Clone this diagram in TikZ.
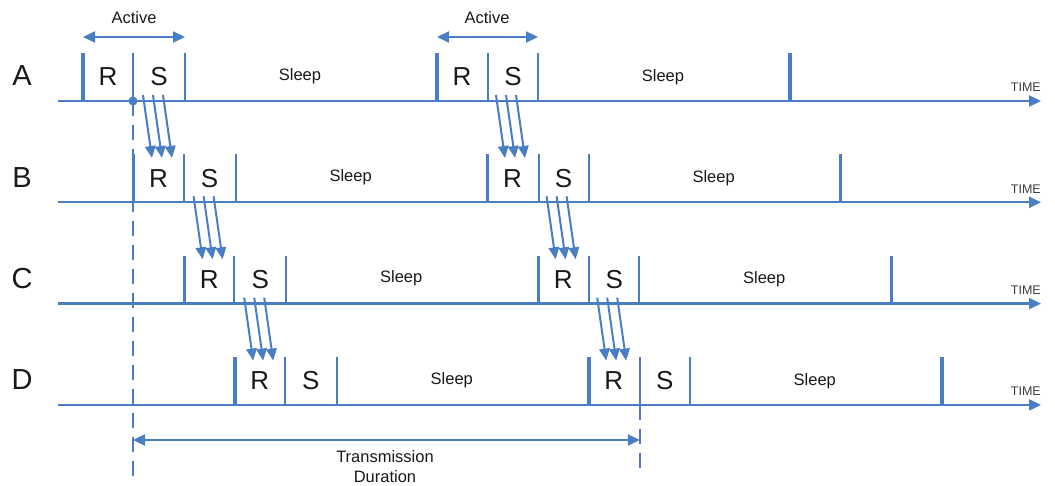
\documentclass[tikz,border=0pt]{standalone}
\usepackage{fontspec}
\setmainfont{Liberation Sans}
\usetikzlibrary{arrows.meta}
\definecolor{lineblue}{RGB}{74,126,196}
\definecolor{txt}{RGB}{25,25,25}
\begin{document}
\begin{tikzpicture}[x=1pt,y=-1pt,
  axis/.style={draw=lineblue,line width=2.2pt,-{Triangle[length=12pt,width=11pt]}},
  thinmark/.style={draw=lineblue,line width=2pt},
  thickmark/.style={draw=lineblue,line width=3.4pt},
  msg/.style={draw=lineblue,line width=2pt,-{Triangle[length=12pt,width=10.5pt]}},
  span/.style={draw=lineblue,line width=2.2pt,{Triangle[length=12pt,width=11pt]}-{Triangle[length=12pt,width=11pt]}},
  guide/.style={draw=lineblue,line width=2pt,dash pattern=on 15pt off 9pt},
  rowlabel/.style={font=\fontsize{29}{29}\selectfont,text=txt,inner sep=0pt},
  slot/.style={font=\fontsize{26}{26}\selectfont,text=txt,inner sep=0pt},
  lbl/.style={font=\fontsize{16.5}{20}\selectfont,text=txt,inner sep=0pt},
  timelbl/.style={font=\fontsize{12.5}{13}\selectfont,text=txt!85,inner sep=0pt}]
\useasboundingbox (0,0) rectangle (1055,486);

% four node timelines, each one offset by half a slot
\foreach \n [count=\i from 0] in {A,B,C,D} {
  \pgfmathsetmacro\yy{101+101.3*\i}
  \pgfmathsetmacro\sh{50.6*\i}
  \node[rowlabel] (lab\n) at (22,\yy-25) {\n};
  \coordinate (ax\n s) at (58,\yy);
  \coordinate (ax\n e) at (1041,\yy);
  \draw[axis] (ax\n s) -- (ax\n e);
  \node[timelbl,anchor=base east] (time\n) at (1041,\yy-9) {TIME};
  % slot boundaries
  \foreach \k/\x/\st in {1/83/thickmark,2/133/thinmark,3/185/thinmark,4/437/thickmark,5/488/thinmark,6/538/thinmark,7/790/thickmark} {
    \coordinate (t\n\k b) at (\x+\sh,\yy);
    \coordinate (t\n\k t) at (\x+\sh,\yy-48);
    \draw[\st] (t\n\k b) -- (t\n\k t);
  }
  % slot labels
  \node[slot] (r\n1) at (108+\sh,\yy-24) {R};
  \node[slot] (s\n1) at (159+\sh,\yy-24) {S};
  \node[slot] (r\n2) at (462+\sh,\yy-24) {R};
  \node[slot] (s\n2) at (513+\sh,\yy-24) {S};
  \node[lbl] (sl\n1) at (300+\sh,\yy-25) {Sleep};
  \node[lbl] (sl\n2) at (663+\sh,\yy-24) {Sleep};
}

% packets forwarded from each node's send slot to the next node
\foreach \n/\i in {A/0,B/1,C/2} {
  \pgfmathsetmacro\yy{101+101.3*\i}
  \pgfmathsetmacro\sh{50.6*\i}
  \foreach \g/\gx in {1/0,2/353} {
    \foreach \j in {0,1,2} {
      \coordinate (m\n\g\j s) at (143+\gx+\sh+10*\j,\yy-6);
      \coordinate (m\n\g\j e) at (152+\gx+\sh+10*\j,\yy+57);
      \draw[msg] (m\n\g\j s) -- (m\n\g\j e);
    }
  }
}

% active periods
\coordinate (act1a) at (83,37);
\coordinate (act1b) at (185,37);
\coordinate (act2a) at (437,37);
\coordinate (act2b) at (538,37);
\draw[span] (act1a) -- (act1b);
\draw[span] (act2a) -- (act2b);
\node[lbl] (actl1) at (134,18) {Active};
\node[lbl] (actl2) at (487,18) {Active};

% transmission duration
\node[circle,fill=lineblue,inner sep=0pt,minimum size=9pt] (dot) at (tA2b) {};
\coordinate (g1e) at (133,476);
\coordinate (g2e) at (tD5b |- g1e);
\draw[guide] (dot.center) -- (g1e);
\draw[guide] (tD5b) -- (g2e);
\coordinate (tr1) at (133,440);
\coordinate (tr2) at (tD5b |- tr1);
\draw[span] (tr1) -- (tr2);
\node[lbl,align=center] (trl) at (385,467) {Transmission\\Duration};
\end{tikzpicture}
\end{document}
